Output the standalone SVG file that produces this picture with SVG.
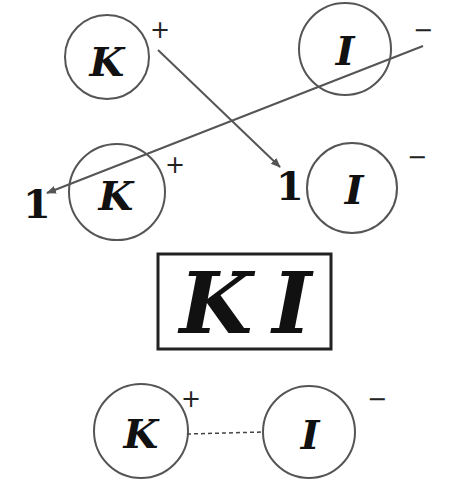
<svg xmlns="http://www.w3.org/2000/svg" width="450" height="487" viewBox="0 0 450 487">
<defs>
<style>
.c{fill:none;stroke:#555;stroke-width:2}
.l{font-family:"DejaVu Serif","Liberation Serif",serif;font-weight:bold;font-style:italic;font-size:40px;fill:#111;text-anchor:middle}
.n{font-family:"DejaVu Serif","Liberation Serif",serif;font-weight:bold;font-size:40px;fill:#111;text-anchor:middle}
.s{font-family:"DejaVu Sans","Liberation Sans",sans-serif;font-size:24px;fill:#222;text-anchor:middle}
.a{fill:none;stroke:#555;stroke-width:2}
</style>
<marker id="ah" viewBox="0 0 10 10" refX="9" refY="5" markerWidth="5" markerHeight="5" orient="auto"><path d="M0,1 L10,5 L0,9 z" fill="#555"/></marker>
</defs>
<rect width="450" height="487" fill="#fff"/>
<g id="K1"><circle class="c" cx="107" cy="57" r="42"/><text class="l" x="107" y="76">K</text><text class="s" x="160" y="38">+</text></g>
<g id="I1"><circle class="c" cx="345" cy="49" r="46"/><text class="l" x="345" y="65">I</text><text class="s" x="423" y="38">−</text></g>
<g id="K2"><circle class="c" cx="117" cy="192" r="48"/><text class="l" x="116" y="210">K</text><text class="s" x="175" y="173">+</text></g>
<g id="I2"><circle class="c" cx="352" cy="188" r="45"/><text class="l" x="354" y="204">I</text><text class="s" x="417" y="165">−</text></g>
<g id="one1"><text class="n" x="37" y="218">1</text></g>
<g id="one2"><text class="n" x="290" y="200">1</text></g>
<g id="KI"><rect x="158" y="254" width="173" height="95" fill="none" stroke="#222" stroke-width="3"/><text class="l" x="216" y="333" style="font-size:84px">K</text><text class="l" x="292" y="333" style="font-size:84px">I</text></g>
<g id="K3"><circle class="c" cx="141" cy="431" r="47"/><text class="l" x="141" y="448">K</text><text class="s" x="191" y="407">+</text></g>
<g id="I3"><circle class="c" cx="309" cy="432" r="46"/><text class="l" x="310" y="449">I</text><text class="s" x="377" y="407">−</text></g>
<g id="connectors">
<line class="a" x1="423" y1="46" x2="47" y2="193" marker-end="url(#ah)"/>
<line class="a" x1="158" y1="50" x2="280" y2="167" marker-end="url(#ah)"/>
<line x1="187" y1="434" x2="263" y2="432" stroke="#444" stroke-width="1.5" stroke-dasharray="4,3"/>
</g>
</svg>
